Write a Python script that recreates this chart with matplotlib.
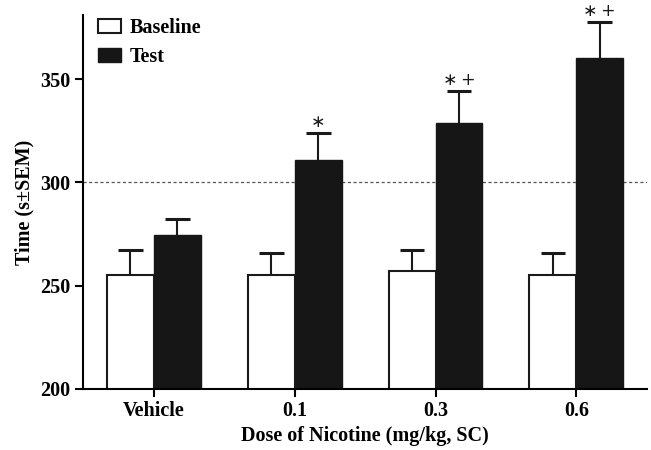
import matplotlib
matplotlib.use("Agg")
import matplotlib.pyplot as plt
import numpy as np

# data
doses = ["Vehicle", "0.1", "0.3", "0.6"]
baseline = [255.2, 255.0, 257.0, 255.0]
baseline_err = [12.0, 10.8, 10.2, 10.8]
test = [274.3, 311.0, 328.5, 360.0]
test_err = [8.0, 13.0, 15.7, 17.4]
marks = ["", "\u2217", "\u2217\u2009+", "\u2217\u2009+"]

plt.rcParams['font.family'] = ['Liberation Serif', 'DejaVu Sans']
plt.rcParams['font.weight'] = 'bold'
plt.rcParams['font.size'] = 14.5

fig = plt.figure(figsize=(6.51, 4.5), dpi=100)
ax = fig.add_axes([0.1275, 0.1356, 0.866, 0.831])

x = np.arange(len(doses))
w = 0.333
cap = 0.088

ax.axhline(300, color='#555555', linestyle=(0, (2.5, 2)), linewidth=0.9, zorder=0)

ax.bar(x - w / 2, baseline, w, color='white', edgecolor='#1a1a1a',
       linewidth=1.5, label='Baseline', zorder=2)
ax.bar(x + w / 2, test, w, color='#161616', edgecolor='#161616',
       linewidth=1.0, label='Test', zorder=2)

# upper-only error bars
for xs, ys, es in [(x - w / 2, baseline, baseline_err), (x + w / 2, test, test_err)]:
    tops = np.array(ys) + np.array(es)
    ax.vlines(xs, ys, tops, color='#1a1a1a', linewidth=1.5, zorder=1)
    ax.hlines(tops, xs - cap, xs + cap, color='#1a1a1a', linewidth=2.2, zorder=1)

for i in range(len(doses)):
    if marks[i]:
        ax.text(x[i] + w / 2, test[i] + test_err[i] + 1.0, marks[i],
                ha='center', va='bottom', fontsize=12.5, fontweight='normal',
                family='DejaVu Sans', color='#1a1a1a')

ax.set_xlim(-0.503, 3.5)
ax.set_ylim(200, 381)
ax.set_yticks([200, 250, 300, 350])
ax.set_xticks(x)
ax.set_xticklabels(doses)
ax.set_xlabel('Dose of Nicotine (mg/kg, SC)', fontweight='bold', labelpad=3)
ax.set_ylabel('Time (s\u00b1SEM)', fontweight='bold', labelpad=4)

for s in ['top', 'right']:
    ax.spines[s].set_visible(False)
for s in ['left', 'bottom']:
    ax.spines[s].set_linewidth(1.5)
ax.tick_params(direction='out', length=6, width=1.5, labelsize=14.5, pad=3)

ax.legend(loc='upper left', frameon=False, bbox_to_anchor=(-0.006, 1.04),
          handlelength=1.15, handleheight=0.7, handletextpad=0.45,
          labelspacing=0.45, prop={'weight': 'bold', 'size': 14.5})

fig.savefig('out.png', dpi=100)
